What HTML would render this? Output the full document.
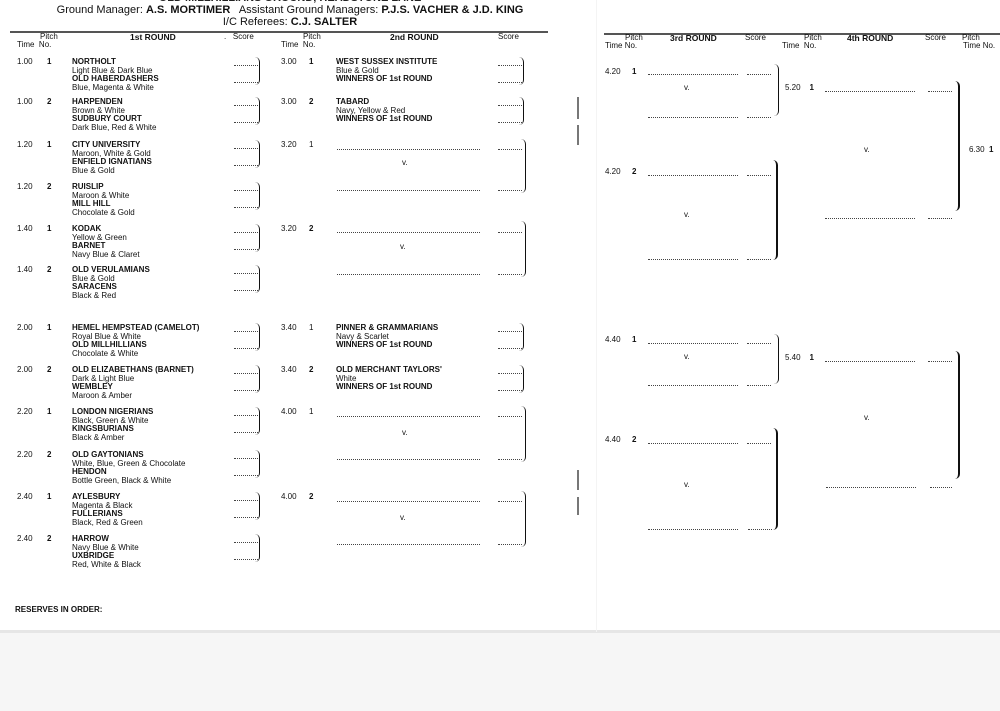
<!DOCTYPE html>
<html><head><meta charset="utf-8"><style>
body{margin:0;width:1000px;height:711px;background:#fff;position:relative;overflow:hidden;font-family:"Liberation Sans",Arial,sans-serif;color:#111}
div{position:absolute}
.s{font-size:8px;line-height:8.5px;white-space:nowrap}
.b{font-weight:bold}
.h{font-size:8.5px;line-height:9px;white-space:nowrap}
.d{border-bottom:1px dotted #444;height:0}
.br{border-right:1.5px solid #111;border-radius:0 5px 5px 0;width:4px}
.m{background:#777;width:1.5px}
</style></head><body>
<div style="left:0;top:632px;width:1000px;height:79px;background:#f6f6f6"></div>
<div style="left:0;top:630px;width:1000px;height:3px;background:#e6e6e6"></div>
<div style="left:596px;top:0;width:1px;height:632px;background:#f4f4f4"></div>

<div style="left:0;top:-8px;width:580px;text-align:center;font-size:11px;font-weight:bold;color:#222">OLD MILLHILLIANS GROUND, HEADSTONE LANE</div>
<div style="left:0;top:4px;width:580px;text-align:center;font-size:11px;line-height:12px">Ground Manager: <b>A.S. MORTIMER</b>&nbsp;&nbsp; Assistant Ground Managers: <b>P.J.S. VACHER &amp; J.D. KING</b></div>
<div style="left:0;top:16px;width:580px;text-align:center;font-size:11px;line-height:12px">I/C Referees: <b>C.J. SALTER</b></div>
<div style="left:10px;top:31px;width:538px;height:1.5px;background:#555"></div>
<div style="left:604px;top:33px;width:396px;height:1.5px;background:#555"></div>

<div class="s" style="left:40px;top:33px">Pitch</div>
<div class="s" style="left:17px;top:41px">Time&nbsp; No.</div>
<div class="h b" style="left:130px;top:33px">1st ROUND</div>
<div class="s" style="left:224px;top:33px">.&nbsp;&nbsp; Score</div>
<div class="s" style="left:303px;top:33px">Pitch</div>
<div class="s" style="left:281px;top:41px">Time&nbsp; No.</div>
<div class="h b" style="left:390px;top:33px">2nd ROUND</div>
<div class="s" style="left:498px;top:33px">Score</div>

<div class="s" style="left:625px;top:34px">Pitch</div>
<div class="s" style="left:605px;top:42px">Time No.</div>
<div class="h b" style="left:670px;top:34px">3rd ROUND</div>
<div class="s" style="left:745px;top:34px">Score</div>
<div class="s" style="left:804px;top:34px">Pitch</div>
<div class="s" style="left:782px;top:42px">Time&nbsp; No.</div>
<div class="h b" style="left:847px;top:34px">4th ROUND</div>
<div class="s" style="left:925px;top:34px">Score</div>
<div class="s" style="left:962px;top:34px">Pitch</div>
<div class="s" style="left:963px;top:42px">Time No.</div>

<!-- 1st round -->
<div class="s" style="left:17px;top:58px">1.00</div><div class="s b" style="left:47px;top:58px">1</div>
<div class="s" style="left:72px;top:58px"><b>NORTHOLT</b><br>Light Blue &amp; Dark Blue<br><b>OLD HABERDASHERS</b><br>Blue, Magenta &amp; White</div>
<div class="s" style="left:17px;top:98px">1.00</div><div class="s b" style="left:47px;top:98px">2</div>
<div class="s" style="left:72px;top:98px"><b>HARPENDEN</b><br>Brown &amp; White<br><b>SUDBURY COURT</b><br>Dark Blue, Red &amp; White</div>
<div class="s" style="left:17px;top:141px">1.20</div><div class="s b" style="left:47px;top:141px">1</div>
<div class="s" style="left:72px;top:141px"><b>CITY UNIVERSITY</b><br>Maroon, White &amp; Gold<br><b>ENFIELD IGNATIANS</b><br>Blue &amp; Gold</div>
<div class="s" style="left:17px;top:183px">1.20</div><div class="s b" style="left:47px;top:183px">2</div>
<div class="s" style="left:72px;top:183px"><b>RUISLIP</b><br>Maroon &amp; White<br><b>MILL HILL</b><br>Chocolate &amp; Gold</div>
<div class="s" style="left:17px;top:225px">1.40</div><div class="s b" style="left:47px;top:225px">1</div>
<div class="s" style="left:72px;top:225px"><b>KODAK</b><br>Yellow &amp; Green<br><b>BARNET</b><br>Navy Blue &amp; Claret</div>
<div class="s" style="left:17px;top:266px">1.40</div><div class="s b" style="left:47px;top:266px">2</div>
<div class="s" style="left:72px;top:266px"><b>OLD VERULAMIANS</b><br>Blue &amp; Gold<br><b>SARACENS</b><br>Black &amp; Red</div>
<div class="s" style="left:17px;top:324px">2.00</div><div class="s b" style="left:47px;top:324px">1</div>
<div class="s" style="left:72px;top:324px"><b>HEMEL HEMPSTEAD (CAMELOT)</b><br>Royal Blue &amp; White<br><b>OLD MILLHILLIANS</b><br>Chocolate &amp; White</div>
<div class="s" style="left:17px;top:366px">2.00</div><div class="s b" style="left:47px;top:366px">2</div>
<div class="s" style="left:72px;top:366px"><b>OLD ELIZABETHANS (BARNET)</b><br>Dark &amp; Light Blue<br><b>WEMBLEY</b><br>Maroon &amp; Amber</div>
<div class="s" style="left:17px;top:408px">2.20</div><div class="s b" style="left:47px;top:408px">1</div>
<div class="s" style="left:72px;top:408px"><b>LONDON NIGERIANS</b><br>Black, Green &amp; White<br><b>KINGSBURIANS</b><br>Black &amp; Amber</div>
<div class="s" style="left:17px;top:451px">2.20</div><div class="s b" style="left:47px;top:451px">2</div>
<div class="s" style="left:72px;top:451px"><b>OLD GAYTONIANS</b><br>White, Blue, Green &amp; Chocolate<br><b>HENDON</b><br>Bottle Green, Black &amp; White</div>
<div class="s" style="left:17px;top:493px">2.40</div><div class="s b" style="left:47px;top:493px">1</div>
<div class="s" style="left:72px;top:493px"><b>AYLESBURY</b><br>Magenta &amp; Black<br><b>FULLERIANS</b><br>Black, Red &amp; Green</div>
<div class="s" style="left:17px;top:535px">2.40</div><div class="s b" style="left:47px;top:535px">2</div>
<div class="s" style="left:72px;top:535px"><b>HARROW</b><br>Navy Blue &amp; White<br><b>UXBRIDGE</b><br>Red, White &amp; Black</div>

<!-- 1st round score dots and braces -->
<div class="d" style="left:234px;top:65px;width:24px"></div><div class="d" style="left:234px;top:82px;width:24px"></div><div class="br" style="left:255px;top:57px;height:28px"></div>
<div class="d" style="left:234px;top:105px;width:24px"></div><div class="d" style="left:234px;top:122px;width:24px"></div><div class="br" style="left:255px;top:97px;height:28px"></div>
<div class="d" style="left:234px;top:148px;width:24px"></div><div class="d" style="left:234px;top:165px;width:24px"></div><div class="br" style="left:255px;top:140px;height:28px"></div>
<div class="d" style="left:234px;top:190px;width:24px"></div><div class="d" style="left:234px;top:207px;width:24px"></div><div class="br" style="left:255px;top:182px;height:28px"></div>
<div class="d" style="left:234px;top:232px;width:24px"></div><div class="d" style="left:234px;top:249px;width:24px"></div><div class="br" style="left:255px;top:224px;height:28px"></div>
<div class="d" style="left:234px;top:273px;width:24px"></div><div class="d" style="left:234px;top:290px;width:24px"></div><div class="br" style="left:255px;top:265px;height:28px"></div>
<div class="d" style="left:234px;top:331px;width:24px"></div><div class="d" style="left:234px;top:348px;width:24px"></div><div class="br" style="left:255px;top:323px;height:28px"></div>
<div class="d" style="left:234px;top:373px;width:24px"></div><div class="d" style="left:234px;top:390px;width:24px"></div><div class="br" style="left:255px;top:365px;height:28px"></div>
<div class="d" style="left:234px;top:415px;width:24px"></div><div class="d" style="left:234px;top:432px;width:24px"></div><div class="br" style="left:255px;top:407px;height:28px"></div>
<div class="d" style="left:234px;top:458px;width:24px"></div><div class="d" style="left:234px;top:475px;width:24px"></div><div class="br" style="left:255px;top:450px;height:28px"></div>
<div class="d" style="left:234px;top:500px;width:24px"></div><div class="d" style="left:234px;top:517px;width:24px"></div><div class="br" style="left:255px;top:492px;height:28px"></div>
<div class="d" style="left:234px;top:542px;width:24px"></div><div class="d" style="left:234px;top:559px;width:24px"></div><div class="br" style="left:255px;top:534px;height:28px"></div>

<!-- 2nd round -->
<div class="s" style="left:281px;top:58px">3.00</div><div class="s b" style="left:309px;top:58px">1</div>
<div class="s" style="left:336px;top:58px"><b>WEST SUSSEX INSTITUTE</b><br>Blue &amp; Gold<br><b>WINNERS OF 1st ROUND</b></div>
<div class="d" style="left:498px;top:65px;width:24px"></div><div class="d" style="left:498px;top:82px;width:24px"></div><div class="br" style="left:519px;top:57px;height:28px"></div>
<div class="s" style="left:281px;top:98px">3.00</div><div class="s b" style="left:309px;top:98px">2</div>
<div class="s" style="left:336px;top:98px"><b>TABARD</b><br>Navy, Yellow &amp; Red<br><b>WINNERS OF 1st ROUND</b></div>
<div class="d" style="left:498px;top:105px;width:24px"></div><div class="d" style="left:498px;top:122px;width:24px"></div><div class="br" style="left:519px;top:97px;height:28px"></div>

<div class="s" style="left:281px;top:141px">3.20</div><div class="s" style="left:309px;top:141px">1</div>
<div class="d" style="left:337px;top:149px;width:143px"></div><div class="d" style="left:498px;top:149px;width:24px"></div>
<div class="s" style="left:402px;top:159px">v.</div>
<div class="d" style="left:337px;top:190px;width:143px"></div><div class="d" style="left:498px;top:190px;width:24px"></div>
<div class="br" style="left:521px;top:139px;height:54px"></div>

<div class="s" style="left:281px;top:225px">3.20</div><div class="s b" style="left:309px;top:225px">2</div>
<div class="d" style="left:337px;top:232px;width:143px"></div><div class="d" style="left:498px;top:232px;width:24px"></div>
<div class="s" style="left:400px;top:243px">v.</div>
<div class="d" style="left:337px;top:274px;width:143px"></div><div class="d" style="left:498px;top:274px;width:24px"></div>
<div class="br" style="left:521px;top:221px;height:56px"></div>

<div class="s" style="left:281px;top:324px">3.40</div><div class="s" style="left:309px;top:324px">1</div>
<div class="s" style="left:336px;top:324px"><b>PINNER &amp; GRAMMARIANS</b><br>Navy &amp; Scarlet<br><b>WINNERS OF 1st ROUND</b></div>
<div class="d" style="left:498px;top:331px;width:24px"></div><div class="d" style="left:498px;top:348px;width:24px"></div><div class="br" style="left:519px;top:323px;height:28px"></div>
<div class="s" style="left:281px;top:366px">3.40</div><div class="s b" style="left:309px;top:366px">2</div>
<div class="s" style="left:336px;top:366px"><b>OLD MERCHANT TAYLORS'</b><br>White<br><b>WINNERS OF 1st ROUND</b></div>
<div class="d" style="left:498px;top:373px;width:24px"></div><div class="d" style="left:498px;top:390px;width:24px"></div><div class="br" style="left:519px;top:365px;height:28px"></div>

<div class="s" style="left:281px;top:408px">4.00</div><div class="s" style="left:309px;top:408px">1</div>
<div class="d" style="left:337px;top:416px;width:143px"></div><div class="d" style="left:498px;top:416px;width:24px"></div>
<div class="s" style="left:402px;top:429px">v.</div>
<div class="d" style="left:337px;top:459px;width:143px"></div><div class="d" style="left:498px;top:459px;width:24px"></div>
<div class="br" style="left:521px;top:406px;height:56px"></div>

<div class="s" style="left:281px;top:493px">4.00</div><div class="s b" style="left:309px;top:493px">2</div>
<div class="d" style="left:337px;top:501px;width:143px"></div><div class="d" style="left:498px;top:501px;width:24px"></div>
<div class="s" style="left:400px;top:514px">v.</div>
<div class="d" style="left:337px;top:544px;width:143px"></div><div class="d" style="left:498px;top:544px;width:24px"></div>
<div class="br" style="left:521px;top:491px;height:56px"></div>

<div class="s b" style="left:15px;top:606px">RESERVES IN ORDER:</div>

<!-- margin marks -->
<div class="m" style="left:577px;top:97px;height:22px"></div>
<div class="m" style="left:577px;top:125px;height:20px"></div>
<div class="m" style="left:577px;top:470px;height:20px"></div>
<div class="m" style="left:577px;top:497px;height:18px"></div>

<!-- 3rd round upper -->
<div class="s" style="left:605px;top:68px">4.20</div><div class="s b" style="left:632px;top:68px">1</div>
<div class="d" style="left:648px;top:74px;width:90px"></div><div class="d" style="left:747px;top:74px;width:24px"></div>
<div class="s" style="left:684px;top:84px">v.</div>
<div class="d" style="left:648px;top:117px;width:90px"></div><div class="d" style="left:747px;top:117px;width:24px"></div>
<div class="br" style="left:774px;top:64px;height:52px"></div>
<div class="s" style="left:785px;top:84px">5.20&nbsp;&nbsp;&nbsp; <b>1</b></div>
<div class="d" style="left:825px;top:91px;width:90px"></div><div class="d" style="left:928px;top:91px;width:24px"></div>
<div class="s" style="left:864px;top:146px">v.</div>
<div class="d" style="left:825px;top:218px;width:90px"></div><div class="d" style="left:928px;top:218px;width:24px"></div>
<div class="br" style="left:954px;top:81px;height:130px;border-right-width:2px"></div>
<div class="s" style="left:969px;top:146px">6.30&nbsp; <b>1</b></div>

<div class="s" style="left:605px;top:168px">4.20</div><div class="s b" style="left:632px;top:168px">2</div>
<div class="d" style="left:648px;top:175px;width:90px"></div><div class="d" style="left:747px;top:175px;width:24px"></div>
<div class="s" style="left:684px;top:211px">v.</div>
<div class="d" style="left:648px;top:259px;width:90px"></div><div class="d" style="left:747px;top:259px;width:24px"></div>
<div class="br" style="left:772px;top:160px;height:100px;border-right-width:2px"></div>

<!-- 3rd round lower -->
<div class="s" style="left:605px;top:336px">4.40</div><div class="s b" style="left:632px;top:336px">1</div>
<div class="d" style="left:648px;top:343px;width:90px"></div><div class="d" style="left:747px;top:343px;width:24px"></div>
<div class="s" style="left:684px;top:353px">v.</div>
<div class="d" style="left:648px;top:385px;width:90px"></div><div class="d" style="left:747px;top:385px;width:24px"></div>
<div class="br" style="left:774px;top:334px;height:50px"></div>
<div class="s" style="left:785px;top:354px">5.40&nbsp;&nbsp;&nbsp; <b>1</b></div>
<div class="d" style="left:825px;top:361px;width:90px"></div><div class="d" style="left:928px;top:361px;width:24px"></div>
<div class="s" style="left:864px;top:414px">v.</div>
<div class="d" style="left:826px;top:487px;width:90px"></div><div class="d" style="left:930px;top:487px;width:22px"></div>
<div class="br" style="left:954px;top:351px;height:128px;border-right-width:2px"></div>

<div class="s" style="left:605px;top:436px">4.40</div><div class="s b" style="left:632px;top:436px">2</div>
<div class="d" style="left:648px;top:443px;width:90px"></div><div class="d" style="left:747px;top:443px;width:24px"></div>
<div class="s" style="left:684px;top:481px">v.</div>
<div class="d" style="left:648px;top:529px;width:90px"></div><div class="d" style="left:748px;top:529px;width:24px"></div>
<div class="br" style="left:772px;top:428px;height:102px;border-right-width:2px"></div>
</body></html>
